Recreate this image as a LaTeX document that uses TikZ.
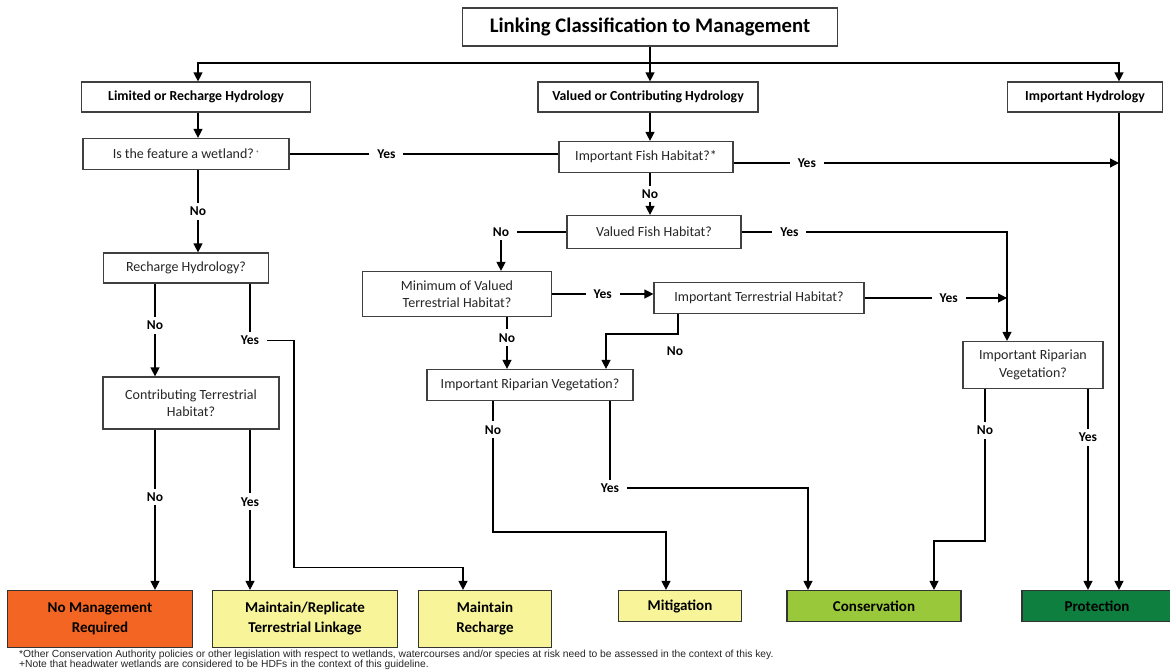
\documentclass[tikz,border=0pt]{standalone}
\usepackage{fontspec}
\setmainfont{Carlito}
\newfontfamily\notefont{Liberation Sans}
\usetikzlibrary{positioning,arrows.meta}

\definecolor{nomgmt}{HTML}{F26522}
\definecolor{keep}{HTML}{F7F49A}
\definecolor{conserv}{HTML}{99C93B}
\definecolor{protect}{HTML}{0F7F3F}

\begin{document}
\begin{tikzpicture}[
  x=1pt, y=-1pt,
  box/.style={rectangle, draw=black!75, line width=1.2pt, fill=white, align=center,
              inner sep=2pt, text=black!85, font=\fontsize{14}{17.5}\selectfont},
  hyd/.style={box, text=black, font=\bfseries\fontsize{13.8}{17}\selectfont},
  outc/.style={box, draw=black!80, text=black, font=\bfseries\fontsize{15}{20}\selectfont},
  lbl/.style={fill=white, inner xsep=8pt, inner ysep=4pt, font=\bfseries\fontsize{13.5}{16}\selectfont},
  wire/.style={draw=black, line width=1.3pt},
  arr/.style={wire, -{Triangle[length=9pt,width=9pt]}},
  note/.style={anchor=west, inner sep=0pt, text=black!85, font=\notefont\fontsize{10.3}{11}\selectfont}
]
\useasboundingbox (0,0) rectangle (1170,671);

\node[box, minimum width=375pt, minimum height=38pt, font=\bfseries\fontsize{20.7}{23}\selectfont, text=black]
  (title) at (650,27) {Linking Classification to Management};

\node[hyd, minimum width=229pt, minimum height=30pt] (lrh) at (196,97) {Limited or Recharge Hydrology};
\node[hyd, minimum width=220pt, minimum height=30pt] (vch) at (648,97) {Valued or Contributing Hydrology};
\node[hyd, minimum width=155pt, minimum height=30pt] (ih) at (1085,97) {Important Hydrology};

\node[box, minimum width=206pt, minimum height=31pt] (wet) at (186,154) {Is the feature a wetland?\,\textsuperscript{\tiny +}};
\node[box, minimum width=174pt, minimum height=31pt] (fish) at (646,157) {Important Fish Habitat?*};
\node[box, minimum width=174pt, minimum height=33pt] (vfh) at (654,232) {Valued Fish Habitat?};
\node[box, minimum width=189pt, minimum height=45pt] (minv) at (457,294) {Minimum of Valued\\Terrestrial Habitat?};
\node[box, minimum width=210pt, minimum height=31pt] (ith) at (759,298) {Important Terrestrial Habitat?};
\node[box, minimum width=206pt, minimum height=31pt] (irvm) at (530,385) {Important Riparian Vegetation?};
\node[box, minimum width=140pt, minimum height=47pt] (irvr) at (1033,365) {Important Riparian\\Vegetation?};
\node[box, minimum width=165pt, minimum height=30pt] (rch) at (186,268) {Recharge Hydrology?};
\node[box, minimum width=176pt, minimum height=52pt] (cth) at (191,403) {Contributing Terrestrial\\Habitat?};

\node[outc, fill=nomgmt, minimum width=185pt, minimum height=57pt] (nmr) at (100,619) {No Management\\Required};
\node[outc, fill=keep, minimum width=185pt, minimum height=57pt] (mrt) at (305,619) {Maintain/Replicate\\Terrestrial Linkage};
\node[outc, fill=keep, minimum width=133pt, minimum height=57pt] (mr) at (485,619) {Maintain\\Recharge};
\node[outc, fill=keep, minimum width=123pt, minimum height=31pt] (mit) at (680,606) {Mitigation};
\node[outc, fill=conserv, minimum width=174pt, minimum height=31pt] (cons) at (874,606) {Conservation};
\node[outc, fill=protect, minimum width=150pt, minimum height=31pt] (prot) at (1097,606) {Protection};

\node[note] (fn1) at (19,655) {*Other Conservation Authority policies or other legislation with respect to wetlands, watercourses and/or species at risk need to be assessed in the context of this key.};
\node[note] (fn2) at (19,665) {+Note that headwater wetlands are considered to be HDFs in the context of this guideline.};

\coordinate (split) at (650,63);
\coordinate (ihx) at ([xshift=34pt]ih.south);
\coordinate (vfx) at ([xshift=-26pt]irvr.north);

\draw[wire] (title.south) -- (split);
\draw[arr] (split) -| ([xshift=2pt]lrh.north);
\draw[arr] (split) -| (ihx |- ih.north);
\draw[arr] (split) -- (split |- vch.north);
\draw[arr] ([xshift=2pt]lrh.south) -- ([xshift=2pt]lrh.south |- wet.north);
\draw[arr] (split |- vch.south) -- (split |- fish.north);
\draw[arr] (ihx) -- (ihx |- prot.north);

\draw[wire] (wet.east) -- node[lbl, pos=0.36]{Yes} (wet.east -| fish.west);
\draw[arr] ([yshift=-6pt]fish.east) -- node[lbl, pos=0.19]{Yes} ([yshift=-6pt]fish.east -| ihx);
\draw[arr] (split |- fish.south) -- node[lbl]{No} (split |- vfh.north);

\draw[arr] (vfh.west) -| node[lbl]{No} ([xshift=44pt]minv.north);
\draw[arr] (vfh.east) -| node[lbl, pos=0.09]{Yes} (vfx);

\draw[arr] (minv.east) -- node[lbl]{Yes} (minv.east -| ith.west);
\draw[arr] ([xshift=50pt]minv.south) -- node[lbl, pos=0.4]{No} ([xshift=50pt]minv.south |- irvm.north);

\draw[arr] ([xshift=-81pt]ith.south) -- ++(0,20) -| ([xshift=76pt]irvm.north);
\node[lbl, fill=none] (ithno) at (675,351) {No};
\draw[arr] (ith.east) -- node[lbl, pos=0.59]{Yes} (ith.east -| vfx);

\draw[arr] ([xshift=-37pt]irvm.south) -- node[lbl, pos=0.22]{No} ++(0,131) -| ([xshift=-14pt]mit.north);
\draw[arr] ([xshift=80pt]irvm.south) -- ++(0,87) node[lbl]{Yes} -| ([xshift=-66pt]cons.north);

\draw[arr] ([xshift=-48pt]irvr.south) -- node[lbl, pos=0.27]{No} ++(0,152) -| ([xshift=60pt]cons.north);
\draw[arr] ([xshift=55pt]irvr.south) -- node[lbl, pos=0.24]{Yes} ([xshift=55pt]irvr.south |- prot.north);

\draw[arr] ([xshift=12pt]wet.south) -- node[lbl]{No} ([xshift=12pt]wet.south |- rch.north);
\draw[arr] ([xshift=-31pt]rch.south) -- node[lbl, pos=0.45]{No} ([xshift=-31pt]rch.south |- cth.north);
\draw[arr] ([xshift=64pt]rch.south) -- ++(0,57) node[lbl]{Yes} -- ++(44,0) -- ++(0,227) -| ([xshift=-22pt]mr.north);

\draw[arr] ([xshift=-36pt]cth.south) -- node[lbl, pos=0.42]{No} ([xshift=-36pt]cth.south |- nmr.north);
\draw[arr] ([xshift=59pt]cth.south) -- node[lbl, pos=0.45]{Yes} ([xshift=59pt]cth.south |- mrt.north);
\end{tikzpicture}
\end{document}
